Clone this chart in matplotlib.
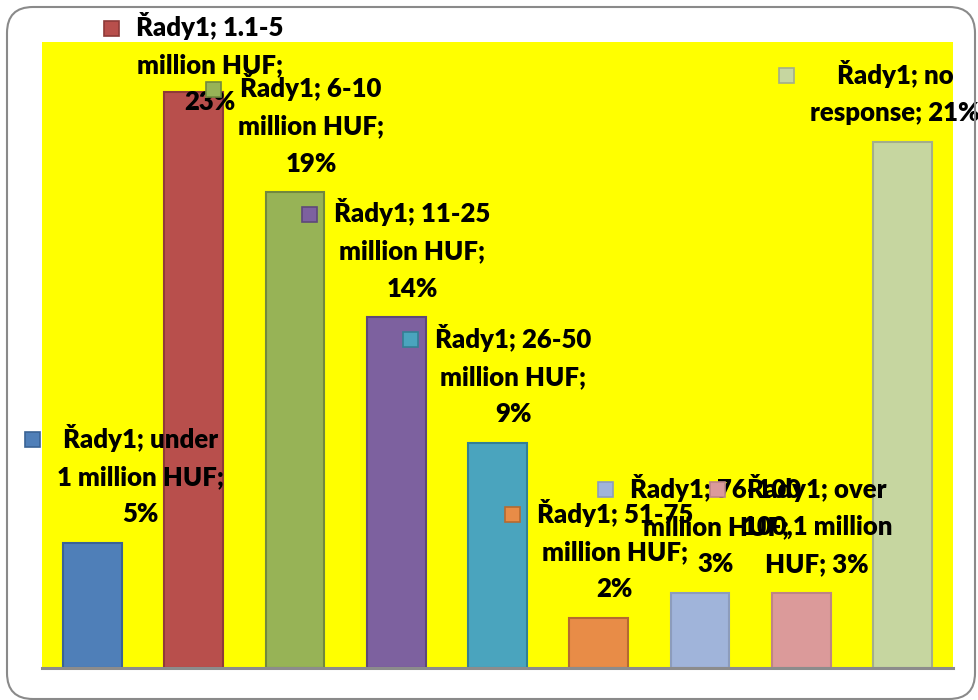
import matplotlib
matplotlib.use("Agg")
import matplotlib.pyplot as plt
from matplotlib.patches import FancyBboxPatch, Rectangle

categories = ["under 1 million HUF", "1.1-5 million HUF", "6-10 million HUF",
              "11-25 million HUF", "26-50 million HUF", "51-75 million HUF",
              "76-100 million HUF", "over 100,1 million HUF", "no response"]
values = [5, 23, 19, 14, 9, 2, 3, 3, 21]
label_texts = ["Řady1; under\n1 million HUF;\n5%",
               "Řady1; 1.1-5\nmillion HUF;\n23%",
               "Řady1; 6-10\nmillion HUF;\n19%",
               "Řady1; 11-25\nmillion HUF;\n14%",
               "Řady1; 26-50\nmillion HUF;\n9%",
               "Řady1; 51-75\nmillion HUF;\n2%",
               "Řady1; 76-100\nmillion HUF;\n3%",
               "Řady1; over\n100,1 million\nHUF; 3%",
               "Řady1; no\nresponse; 21%"]
colors = ["#4F7FB8", "#B84F4C", "#97B356", "#7D619F", "#4AA4BE", "#E88C47",
          "#A0B4DA", "#DB9A9A", "#C6D6A0"]
edges = ["#3A6395", "#8E3A38", "#71883E", "#5E4879", "#337F94", "#B56A30",
         "#8C9CBC", "#BE8585", "#A3AE8A"]

W, H = 979, 700
fig = plt.figure(figsize=(W / 100, H / 100), dpi=100)
fig.patch.set_facecolor("white")

# rounded chart border
border = FancyBboxPatch((7, 1), 968, 692, boxstyle="round,pad=0,rounding_size=26",
                        transform=None, facecolor="none", edgecolor="#8a8a8a",
                        linewidth=1.5, zorder=0)
fig.patches.append(border)

ax = fig.add_axes([42 / W, 32 / H, 911 / W, 626 / H])
ax.set_facecolor("#FFFF00")
x = list(range(len(values)))
ax.bar(x, values, width=0.58, color=colors, edgecolor=edges, linewidth=1.5, zorder=2)
ax.set_xlim(-0.5, len(values) - 0.5)
ax.set_ylim(0, 25)
ax.set_xticks([])
ax.set_yticks([])
for s in ["left", "top", "right"]:
    ax.spines[s].set_visible(False)
ax.spines["bottom"].set_color("#8c8c8c")
ax.spines["bottom"].set_linewidth(2.2)

font = dict(family="Lato", weight="heavy", size=18.5)
key = 15
gap = 17
base_off = 12
texts = []
for i, (v, t) in enumerate(zip(values, label_texts)):
    txt = ax.annotate(t, xy=(i, v), xytext=(0, base_off), textcoords="offset points",
                      ha="center", va="bottom", linespacing=1.66,
                      annotation_clip=False, zorder=5, **font)
    texts.append(txt)

fig.canvas.draw()
r = fig.canvas.get_renderer()
for i, txt in enumerate(texts):
    bb = txt.get_window_extent(r)
    # center the block (key + text) on the bar, keep it inside the chart area
    dx = (key + gap) / 2
    dy = 0
    left = bb.x0 + dx - key - gap
    if left < 25:
        dx += 25 - left
    right = bb.x1 + dx
    if right > 980:
        dx -= right - 980
    if bb.y1 > H - 12:
        dy = (H - 12) - bb.y1
    txt.set_position((dx * 72 / 100, base_off + dy * 72 / 100))

fig.canvas.draw()
for i, txt in enumerate(texts):
    bb = txt.get_window_extent(r)
    nlines = txt.get_text().count("\n") + 1
    line_h = bb.height / nlines
    cy = bb.y1 - line_h / 2 + 1
    rect = Rectangle((bb.x0 - gap - key, cy - key / 2), key, key, transform=None,
                     facecolor=colors[i], edgecolor=edges[i], linewidth=1.2, zorder=6)
    fig.patches.append(rect)

fig.savefig("out.png", dpi=100)
